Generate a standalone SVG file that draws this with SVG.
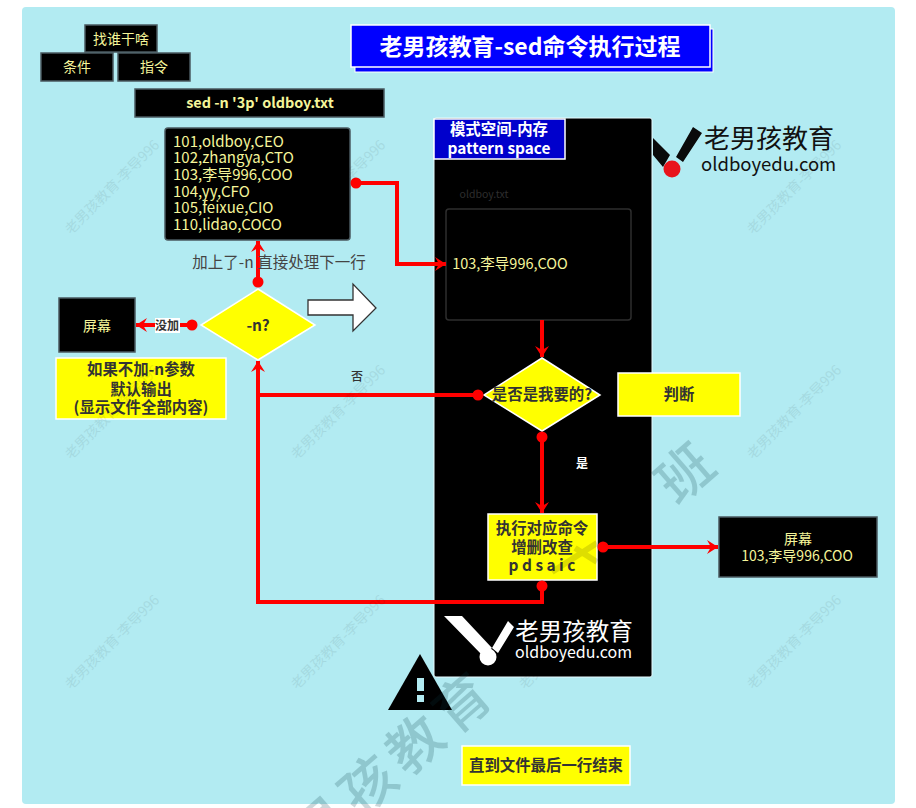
<svg xmlns="http://www.w3.org/2000/svg" width="916" height="808" viewBox="0 0 916 808">
<defs>
<style>
text{font-family:"Noto Sans CJK SC","Noto Sans",sans-serif;text-anchor:middle}
.dk{fill:#000;stroke:#4a5a60;stroke-width:1.5}
.lt{fill:#f5f59a;font-size:14px}
.rows text{fill:#f5f59a;font-size:15px;text-anchor:start}
.yel{fill:#ff0;stroke:#fff;stroke-width:1.5}
.yt{fill:#333;font-size:15.4px;font-weight:700}
.ln{fill:none;stroke:#f00;stroke-width:4}
.wm{font-size:14px;fill:#000;opacity:.07}
.big{font-size:55px;font-weight:500;fill:#0a3a44;opacity:.2}
.logo{font-size:26px}
.url{font-size:18.5px;text-anchor:start}
</style>
<marker id="arr" markerUnits="userSpaceOnUse" markerWidth="14" markerHeight="16" refX="12" refY="8" orient="auto"><path d="M1 1 12 8 1 15 5 8Z" fill="#f00"/></marker>
<marker id="dot" markerUnits="userSpaceOnUse" markerWidth="12" markerHeight="12" refX="6" refY="6"><circle cx="6" cy="6" r="5.5" fill="#f00"/></marker>
<g id="wmt"><text class="wm" y="5" transform="rotate(-45)">老男孩教育-李导996</text></g>
</defs>
<rect width="916" height="808" fill="#fff"/>
<rect x="22" y="7" width="873" height="797" rx="4" fill="#b2ebf2"/>

<g id="title"><rect x="355" y="29" width="358" height="43" fill="#00f" stroke="#fff"/><rect x="351" y="25" width="359" height="42" fill="#00f" stroke="#fff" stroke-width="1.5"/><text x="530" y="55" fill="#fff" font-size="23" font-weight="700">老男孩教育-sed命令执行过程</text></g>
<g id="who"><rect class="dk" x="85" y="25" width="72" height="27"/><text class="lt" x="121" y="44">找谁干啥</text></g>
<g id="cond"><rect class="dk" x="41" y="53" width="72" height="28"/><text class="lt" x="77" y="72">条件</text></g>
<g id="cmd"><rect class="dk" x="118" y="53" width="72" height="28"/><text class="lt" x="154" y="72">指令</text></g>
<g id="command"><rect class="dk" x="135" y="89" width="249" height="28"/><text x="260" y="108" fill="#f5f59a" font-size="14.4" font-weight="700">sed -n '3p' oldboy.txt</text></g>
<g id="file"><rect class="dk" x="165" y="128" width="185" height="112" rx="3"/>
<g class="rows"><text x="173" y="147">101,oldboy,CEO</text><text x="173" y="163">102,zhangya,CTO</text><text x="173" y="180">103,李导996,COO</text><text x="173" y="197">104,yy,CFO</text><text x="173" y="213">105,feixue,CIO</text><text x="173" y="230">110,lidao,COCO</text></g></g>

<g id="panel"><rect x="434" y="118" width="218" height="559" rx="2" fill="#000" stroke="#e6fbff"/></g>
<g id="pattern"><rect x="434" y="119" width="131" height="40" fill="#00c" stroke="#fff" stroke-width="1.5"/><text x="499" y="135" fill="#fff" font-size="15.4" font-weight="700">模式空间-内存</text><text x="499" y="154" fill="#fff" font-size="15.4" font-weight="700">pattern space</text></g>
<g id="space"><text x="484" y="198" fill="#2e2e2e" font-size="10.5">oldboy.txt</text><rect x="446" y="209" width="185" height="111" rx="3" fill="#000" stroke="#2e2e2e" stroke-width="1.5"/><text x="510" y="269" fill="#f5f59a" font-size="14.5">103,李导996,COO</text></g>
<g id="judge"><path class="yel" d="M542 358 600 395 542 431 484 395Z"/><text class="yt" x="542" y="400">是否是我要的?</text></g>
<g id="judge-note"><rect class="yel" x="618" y="373" width="122" height="43"/><text class="yt" x="679" y="400">判断</text></g>
<g id="exec"><rect class="yel" x="488" y="514" width="109" height="66"/><text class="yt" x="542" y="534">执行对应命令</text><text class="yt" x="542" y="553">增删改查</text><text class="yt" x="542" y="571">p d s a i c</text></g>
<g id="screen-out"><rect class="dk" x="719" y="517" width="158" height="60"/><text class="lt" x="798" y="544">屏幕</text><text class="lt" x="797" y="561">103,李导996,COO</text></g>
<g id="n-test"><path class="yel" d="M258 289 315 325 258 360 201 325Z"/><text class="yt" x="258" y="331">-n?</text></g>
<g id="screen"><rect class="dk" x="59" y="298" width="76" height="54"/><text class="lt" x="97" y="331">屏幕</text></g>
<g id="n-note"><rect class="yel" x="56" y="358" width="170" height="61"/><text class="yt" x="141" y="375">如果不加-n参数</text><text class="yt" x="141" y="395">默认输出</text><text class="yt" x="141" y="413">(显示文件全部内容)</text></g>
<g id="next-arrow"><path d="M308 300H353V284L376 308 353 331V315H308Z" fill="#fff" stroke="#333" stroke-width="1.3"/></g>
<g id="warn"><path d="M420 654 452 710H388Z" fill="#000"/><rect x="417" y="678" width="7" height="13" fill="#b2ebf2"/><rect x="417" y="695" width="7" height="7" fill="#b2ebf2"/></g>
<g id="end"><rect class="yel" x="462" y="746" width="168" height="39"/><text class="yt" x="546" y="771">直到文件最后一行结束</text></g>

<g id="connectors">
<path class="ln" d="M356 183H397V264H446" marker-start="url(#dot)" marker-end="url(#arr)"/>
<path class="ln" d="M258 282V241" marker-start="url(#dot)" marker-end="url(#arr)"/>
<path class="ln" d="M192 325H136" marker-start="url(#dot)" marker-end="url(#arr)"/>
<path class="ln" d="M542 320V357" marker-end="url(#arr)"/>
<path class="ln" d="M478 395H258" marker-start="url(#dot)"/>
<path class="ln" d="M542 437V513" marker-start="url(#dot)" marker-end="url(#arr)"/>
<path class="ln" d="M603 547H718" marker-start="url(#dot)" marker-end="url(#arr)"/>
<path class="ln" d="M542 586V602H258V361" marker-start="url(#dot)" marker-end="url(#arr)"/>
</g>
<g id="edge-labels">
<rect x="155" y="318" width="25" height="15" fill="#fff"/><text x="167" y="330" fill="#333" font-size="12" font-weight="700">没加</text>
<text x="357" y="381" fill="#333" font-size="12" font-weight="500">否</text>
<text x="582" y="468" fill="#fff" font-size="12" font-weight="700">是</text>
<text x="279" y="268" fill="#444" font-size="15.5">加上了-n 直接处理下一行</text>
</g>

<g id="logo-top"><path d="M653 138 670 155 663 167 653 155Z M693 127 702 133 683 162 676 157Z" fill="#0a0a0a"/><circle cx="672" cy="169" r="8.5" fill="#e8141c"/><text class="logo" x="769" y="148" fill="#111">老男孩教育</text><text class="url" x="701" y="171" fill="#111">oldboyedu.com</text></g>
<g id="logo-bottom"><path d="M444 616H462L492 648 482 655Z M508 621 514 627 498 653 492 648Z" fill="#fff"/><circle cx="488" cy="657" r="8.5" fill="#fff"/><text class="logo" x="574" y="640" fill="#fff" style="font-size:23.5px">老男孩教育</text><text class="url" x="515" y="658" fill="#fff" style="font-size:16px">oldboyedu.com</text></g>

<g id="watermark">
<use href="#wmt" x="112" y="187"/><use href="#wmt" x="338" y="187"/><use href="#wmt" x="794" y="187"/>
<use href="#wmt" x="112" y="412"/><use href="#wmt" x="338" y="412"/><use href="#wmt" x="794" y="412"/>
<use href="#wmt" x="112" y="642"/><use href="#wmt" x="338" y="642"/><use href="#wmt" x="566" y="642"/><use href="#wmt" x="794" y="642"/>
<text class="big" y="20" transform="translate(462 703) rotate(-41)">育</text>
<text class="big" y="20" transform="translate(415 744) rotate(-41)">教</text>
<text class="big" y="20" transform="translate(368 785) rotate(-41)">孩</text>
<text class="big" y="20" transform="translate(321 826) rotate(-41)">男</text>
<text class="big" y="20" transform="translate(685 473) rotate(-41)">班</text>
<path d="M552 572 597 543M575 548 597 562" fill="none" stroke="#000" stroke-opacity=".13" stroke-width="6"/>
</g>
</svg>
